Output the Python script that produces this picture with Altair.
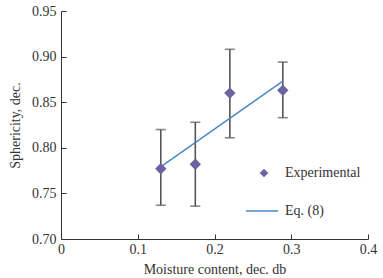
import altair as alt
import pandas as pd

moisture = [0.130, 0.175, 0.220, 0.289]
sphericity = [0.777, 0.782, 0.860, 0.863]
err_low = [0.737, 0.736, 0.811, 0.833]
err_high = [0.820, 0.828, 0.908, 0.894]

fit_x = [0.128, 0.289]
fit_y = [0.778, 0.873]

W, H = 307, 228
FONT = "Liberation Serif"

pts = pd.DataFrame({"x": moisture, "y": sphericity, "lo": err_low, "hi": err_high,
                    "series": ["Experimental"] * len(moisture)})
fit = pd.DataFrame({"x": fit_x, "y": fit_y, "series": ["Eq. (8)"] * len(fit_x)})

xscale = alt.Scale(domain=[0, 0.4], nice=False, zero=False)
yscale = alt.Scale(domain=[0.70, 0.95], nice=False, zero=False)

axis_x_main = alt.Axis(orient="bottom", values=[0, 0.1, 0.2, 0.3, 0.4], format="~g",
                       ticks=False, labelPadding=3, title="Moisture content, dec. db",
                       titlePadding=6, grid=False, domainColor="#333", labelFlush=False,
                       labelFont=FONT, titleFont=FONT, labelFontSize=14, titleFontSize=14,
                       labelColor="#333", titleColor="#333", titleFontWeight="normal")
axis_y_main = alt.Axis(orient="left", values=[0.70, 0.75, 0.80, 0.85, 0.90, 0.95], format=".2f",
                       ticks=False, labelPadding=5, title="Sphericity, dec.",
                       titlePadding=9, grid=False, domainColor="#333",
                       labelFont=FONT, titleFont=FONT, labelFontSize=14, titleFontSize=14,
                       labelColor="#333", titleColor="#333", titleFontWeight="normal")
axis_x_ticks = alt.Axis(orient="top", offset=-H, values=[0, 0.1, 0.2, 0.3, 0.4], labels=False,
                        domain=False, ticks=True, tickSize=5, tickColor="#333", title=None, grid=False)
axis_y_ticks = alt.Axis(orient="right", offset=-W, values=[0.70, 0.75, 0.80, 0.85, 0.90, 0.95],
                        labels=False, domain=False, ticks=True, tickSize=5, tickColor="#333",
                        title=None, grid=False)

base = alt.Chart(pts)

bars = base.mark_rule(color="#555555", strokeWidth=1.6).encode(
    x=alt.X("x:Q", scale=xscale, axis=axis_x_main),
    y=alt.Y("lo:Q", scale=yscale, axis=axis_y_main),
    y2="hi:Q",
)
cap_lo = base.mark_tick(orient="horizontal", size=10, thickness=1.6, color="#555555").encode(
    x=alt.X("x:Q", scale=xscale, axis=axis_x_ticks),
    y=alt.Y("lo:Q", scale=yscale, axis=axis_y_ticks),
)
cap_hi = base.mark_tick(orient="horizontal", size=10, thickness=1.6, color="#555555").encode(
    x=alt.X("x:Q", scale=xscale, axis=None),
    y=alt.Y("hi:Q", scale=yscale, axis=None),
)
line = alt.Chart(fit).mark_line(strokeWidth=1.5).encode(
    x=alt.X("x:Q", scale=xscale, axis=None),
    y=alt.Y("y:Q", scale=yscale, axis=None),
    color=alt.Color("series:N", scale=alt.Scale(domain=["Eq. (8)"], range=["#4a88c7"]),
                    legend=alt.Legend(orient="none", legendX=184, legendY=183, title=None,
                                      symbolType="stroke", symbolSize=1024, symbolStrokeWidth=1.5,
                                      labelOffset=6, padding=0, labelFont=FONT, labelFontSize=14,
                                      labelColor="#333")),
)
points = base.mark_point(filled=True, size=130, opacity=1, color="#6b629f").encode(
    x=alt.X("x:Q", scale=xscale, axis=None),
    y=alt.Y("y:Q", scale=yscale, axis=None),
    shape=alt.Shape("series:N", scale=alt.Scale(domain=["Experimental"], range=["diamond"]),
                    legend=alt.Legend(orient="none", legendX=196, legendY=155, title=None,
                                      symbolSize=75, symbolFillColor="#6b629f",
                                      symbolStrokeColor="#6b629f", symbolOpacity=1,
                                      labelOffset=14, padding=0, labelFont=FONT, labelFontSize=14,
                                      labelColor="#333")),
)

chart = alt.layer(bars, cap_lo, cap_hi, line, points).resolve_axis(
    x="independent", y="independent"
).resolve_legend(color="independent", shape="independent").properties(
    width=W, height=H,
    background="white",
    autosize=alt.AutoSizeParams(type="none"),
    padding={"left": 61, "top": 11, "right": 15, "bottom": 39},
).configure_view(stroke=None)

chart.save("out.html", embed_options={"renderer": "svg", "actions": False})
